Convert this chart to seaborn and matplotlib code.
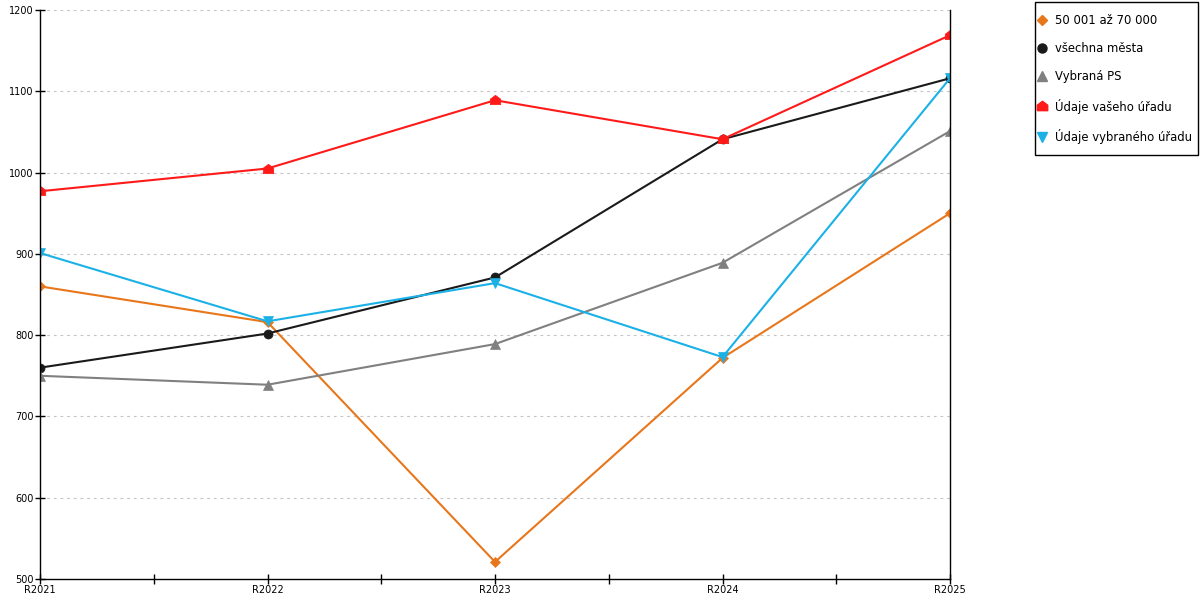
import pandas as pd
import numpy as np
import seaborn as sns
import matplotlib.pyplot as plt
from matplotlib.lines import Line2D
from matplotlib.patches import Rectangle

# data
years = ['R2021', 'R2022', 'R2023', 'R2024', 'R2025']
series_names = ['50 001 až 70 000', 'všechna města', 'Vybraná PS',
                'Údaje vašeho úřadu', 'Údaje vybraného úřadu']
skupina_50_70 = [860, 816, 521, 772, 950]
vsechna_mesta = [760, 802, 871, 1041, 1116]
vybrana_ps = [750, 739, 789, 889, 1051]
vas_urad = [977, 1005, 1089, 1041, 1169]
vybrany_urad = [901, 817, 864, 773, 1116]

values = [skupina_50_70, vsechna_mesta, vybrana_ps, vas_urad, vybrany_urad]

# house shaped marker for "Údaje vašeho úřadu"
house = [(-1, -0.8), (1, -0.8), (1, 0.25), (0, 1), (-1, 0.25), (-1, -0.8)]

styles = {
    '50 001 až 70 000':      dict(color='#E8761A', marker='D', ms=4.8),
    'všechna města':         dict(color='#1a1a1a', marker='o', ms=6.5),
    'Vybraná PS':            dict(color='#808080', marker='^', ms=7),
    'Údaje vašeho úřadu':    dict(color='#FF1A1A', marker=house, ms=7.5),
    'Údaje vybraného úřadu': dict(color='#1BB1E7', marker='v', ms=7),
}

rows = []
for name, vals in zip(series_names, values):
    for i, (yr, v) in enumerate(zip(years, vals)):
        rows.append({'serie': name, 'rok': yr, 'pos': i, 'hodnota': v})
df = pd.DataFrame(rows)

sns.set_style('white')
plt.rcParams['font.family'] = ['DejaVu Sans']
plt.rcParams['text.color'] = 'black'
plt.rcParams['xtick.color'] = 'black'
plt.rcParams['ytick.color'] = 'black'

fig = plt.figure(figsize=(12, 6), dpi=100)
ax = fig.add_axes([40 / 1200, 21 / 600, 910 / 1200, 569 / 600])

for name in series_names:
    st = styles[name]
    sub = df[df['serie'] == name]
    sns.lineplot(data=sub, x='pos', y='hodnota', ax=ax, color=st['color'],
                 marker=st['marker'], markersize=st['ms'],
                 markeredgecolor=st['color'], markeredgewidth=0.5,
                 linewidth=1.5, legend=False)

ax.set_xlim(0, 4)
ax.set_ylim(500, 1200)
ax.set_xticks(range(len(years)))
ax.set_xticklabels(years)
ax.set_xticks(np.arange(0.5, 4, 1), minor=True)
ax.set_yticks(range(500, 1201, 100))
ax.set_xlabel('')
ax.set_ylabel('')

for yv in range(600, 1201, 100):
    ax.axhline(yv, color='#c4c4c4', linewidth=0.8, linestyle=(0, (2.5, 3.5)), zorder=0)

for side in ['left', 'bottom', 'right']:
    ax.spines[side].set_visible(True)
    ax.spines[side].set_color('black')
    ax.spines[side].set_linewidth(1.0)
ax.spines['top'].set_visible(False)

ax.tick_params(axis='both', which='both', direction='inout', length=7,
               width=1, color='black', labelcolor='black', labelsize=7, pad=1)
ax.tick_params(axis='x', which='both', bottom=True)
ax.tick_params(axis='y', which='both', left=True, right=False)

# legend box drawn by hand so the padding matches the reference
fig.patches.append(Rectangle((1035 / 1200, 1 - 155 / 600), 163 / 1200, 153 / 600,
                             transform=fig.transFigure, fill=False,
                             edgecolor='black', linewidth=1.0))

handles = [Line2D([], [], linestyle='none', marker=styles[n]['marker'],
                  color=styles[n]['color'], markersize=styles[n]['ms'])
           for n in series_names]
leg = fig.legend(handles, series_names, loc='upper left',
                 bbox_to_anchor=(1038 / 1200, 1 - 14 / 600),
                 frameon=False, fontsize=8.4, labelspacing=1.3,
                 handlelength=0.7, handletextpad=0.75, borderpad=0,
                 borderaxespad=0)
for t in leg.get_texts():
    t.set_color('black')

fig.savefig('out.png', dpi=100)
